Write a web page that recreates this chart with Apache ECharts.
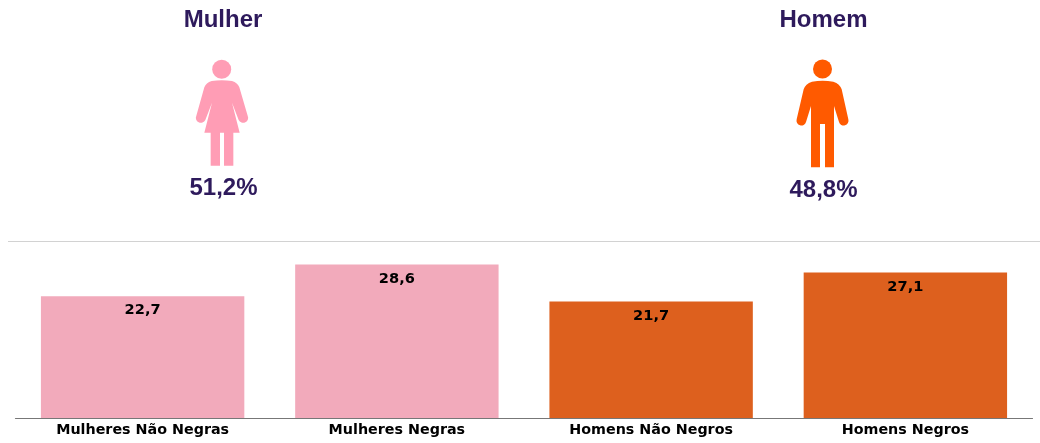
<!DOCTYPE html>
<html>
<head>
<meta charset="utf-8">
<script src="https://cdn.jsdelivr.net/npm/echarts@6/dist/echarts.min.js"></script>
<style>
html, body { margin: 0; padding: 0; background: #fff; }
#chart { width: 1040px; height: 443px; }
</style>
</head>
<body>
<div id="chart"></div>
<script>
var categories = ['Mulheres Não Negras', 'Mulheres Negras', 'Homens Não Negros', 'Homens Negros'];
var values = [22.7, 28.6, 21.7, 27.1];
var groups = ['Mulher', 'Homem'];
var groupShares = ['51,2%', '48,8%'];

var PINK = '#F2AABB', ORANGE = '#DD601E';
var INK = '#2E1A5C';
var barColors = [PINK, PINK, ORANGE, ORANGE];

// silhouettes drawn in a 3x box, scaled down when placed
var womanPath = 'M125 243 Q155 238 186 243 Q203 248 208 262 L233 347 A14 14 0 0 1 206 360 L186 308 L209 398 L190 398 L190 497 L162 497 L162 398 L150 398 L150 497 L122 497 L122 398 L103 398 L126 308 L106 360 A14 14 0 0 1 79 347 L103 262 Q108 248 125 243 Z';
var manPath = 'M126 245 Q158 240 190 245 Q210 252 215 268 L235 358 A14 14 0 0 1 207 366 L192 318 L192 502 L165 502 L165 372 L150 372 L150 502 L123 502 L123 318 L108 366 A14 14 0 0 1 80 358 L101 268 Q106 252 126 245 Z';

echarts.graphic.registerShape('womanIcon', echarts.graphic.extendPath(womanPath, {}));
echarts.graphic.registerShape('manIcon', echarts.graphic.extendPath(manPath, {}));

function heading(text, x, y) {
    return {
        type: 'text',
        x: x,
        y: y,
        style: {
            text: text,
            fill: INK,
            font: 'bold 24px "Liberation Sans", Arial, sans-serif',
            textAlign: 'center',
            textVerticalAlign: 'middle'
        }
    };
}

function person(shape, x, color) {
    return {
        type: shape,
        x: x,
        y: 0,
        scaleX: 1 / 3,
        scaleY: 1 / 3,
        style: { fill: color }
    };
}

var graphic = [
    heading(groups[0], 223, 20),
    heading(groups[1], 823.5, 20),
    heading(groupShares[0], 223.5, 188),
    heading(groupShares[1], 823.5, 190),
    person('womanIcon', 170, '#FF9DB5'),
    person('manIcon', 770, '#FF5A00'),
    { type: 'circle', shape: { cx: 221.7, cy: 69.3, r: 9.5 }, style: { fill: '#FF9DB5' } },
    { type: 'circle', shape: { cx: 822.5, cy: 69, r: 9.5 }, style: { fill: '#FF5A00' } },
    { type: 'line', shape: { x1: 8, y1: 241.5, x2: 1040, y2: 241.5 }, style: { stroke: '#D2D2D2', lineWidth: 1 } }
];

var myChart = echarts.init(document.getElementById('chart'));

var option = {
    animation: false,
    backgroundColor: '#fff',
    graphic: graphic,
    grid: { left: 15.5, right: 7.5, top: 257, bottom: 25 },
    xAxis: {
        type: 'category',
        data: categories,
        axisLine: { lineStyle: { color: '#777', width: 1.2 } },
        axisTick: { alignWithLabel: true, length: 2, lineStyle: { color: '#777' } },
        axisLabel: {
            color: '#000',
            fontFamily: '"DejaVu Sans"',
            fontWeight: 'bold',
            fontSize: 14.3,
            margin: 5
        }
    },
    yAxis: { type: 'value', min: 0, max: 30, show: false },
    series: [{
        type: 'bar',
        barWidth: '80%',
        data: values,
        itemStyle: {
            color: function (p) { return barColors[p.dataIndex]; }
        },
        label: {
            show: true,
            position: 'insideTop',
            distance: 7,
            color: '#000',
            fontFamily: '"DejaVu Sans"',
            fontWeight: 'bold',
            fontSize: 14.6,
            formatter: function (p) { return String(p.value).replace('.', ','); }
        }
    }]
};

myChart.setOption(option);
</script>
</body>
</html>
